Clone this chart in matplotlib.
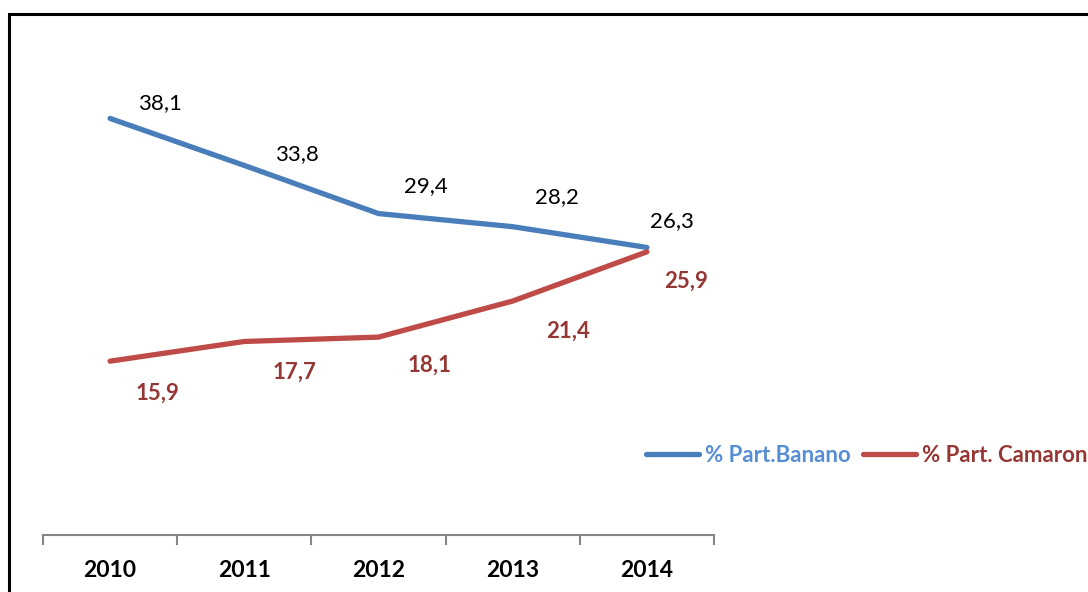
import matplotlib
matplotlib.use("Agg")
import matplotlib.pyplot as plt
from matplotlib.patches import Rectangle

plt.rcParams['font.family'] = ['Lato', 'DejaVu Sans']

# data
years = ['2010', '2011', '2012', '2013', '2014']
banano = [38.1, 33.8, 29.4, 28.2, 26.3]
camaron = [15.9, 17.7, 18.1, 21.4, 25.9]
name_banano = '% Part.Banano'
name_camaron = '% Part. Camaron'

# label offsets (points) - style only
off_banano = [(36, 11), (38, 8), (34, 20), (32, 21), (18, 19)]
off_camaron = [(34, -23), (36, -22), (37, -20), (40, -22), (28, -21)]

blue = '#4A7EBB'
red = '#BE4B48'

fig = plt.figure(figsize=(10.88, 5.92), dpi=100)
ax = fig.add_axes([43/1088, 1-535/592, (714-43)/1088, 492/592])

x = list(range(len(years)))
l1, = ax.plot(x, banano, color=blue, lw=3.8, solid_capstyle='round', label=name_banano)
l2, = ax.plot(x, camaron, color=red, lw=3.8, solid_capstyle='round', label=name_camaron)

for i, v in enumerate(banano):
    ax.annotate(f'{v:.1f}'.replace('.', ','), (i, v), xytext=off_banano[i],
                textcoords='offset points', ha='center', va='center',
                fontsize=16, color='black')
for i, v in enumerate(camaron):
    ax.annotate(f'{v:.1f}'.replace('.', ','), (i, v), xytext=off_camaron[i],
                textcoords='offset points', ha='center', va='center',
                fontsize=16, color='#953735', fontweight='bold')

ax.set_xlim(-0.5, len(years)-0.5)
ax.set_ylim(0, 45)
ax.set_yticks([])
ax.set_xticks([i - 0.5 for i in range(len(years)+1)], minor=False)
ax.set_xticklabels([])
ax.set_xticks(x, minor=True)
ax.set_xticklabels(years, minor=True, fontsize=16.5, fontweight='bold')
ax.tick_params(axis='x', which='major', length=7, width=1.5, color='#868686', direction='out')
ax.tick_params(axis='x', which='minor', length=0, pad=18)
for s in ['top', 'right', 'left']:
    ax.spines[s].set_visible(False)
ax.spines['bottom'].set_color('#868686')
ax.spines['bottom'].set_linewidth(1.5)

leg = fig.legend(handles=[l1, l2], loc='center left', bbox_to_anchor=(646/1088, 1-455/592),
                 ncol=2, frameon=False, handlelength=2.4, handletextpad=0.25,
                 columnspacing=0.55, borderaxespad=0, borderpad=0,
                 prop={'size': 16, 'weight': 'bold'})
leg.get_texts()[0].set_color('#558ED5')
leg.get_texts()[1].set_color('#953735')

fig.add_artist(Rectangle((9/1088, -0.2), 1.5, 1.2 - 14/592, transform=fig.transFigure,
                         fill=False, lw=2.2, ec='black', clip_on=False))

fig.savefig('out.png', dpi=100)
